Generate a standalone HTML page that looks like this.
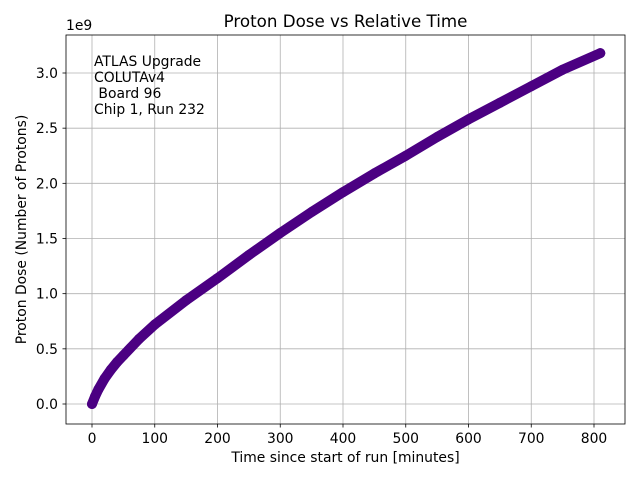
<!DOCTYPE html>
<html><head><meta charset="utf-8"><style>
body{margin:0;background:#fff;}
svg text{font-family:"DejaVu Sans","Liberation Sans",sans-serif;fill:#000;}
</style></head><body>
<svg id="chart" width="640" height="480" viewBox="0 0 640 480">
<rect width="640" height="480" fill="#fff"/>
<g id="grid"></g>
<g id="series"></g>
<rect x="66" y="35" width="559" height="389" fill="none" stroke="#000" stroke-width="0.8"/>
<g id="axes"></g>
<text x="345.5" y="27" font-size="16.7" text-anchor="middle">Proton Dose vs Relative Time</text>
<text x="345.5" y="462" font-size="13.9" text-anchor="middle">Time since start of run [minutes]</text>
<text transform="translate(26,229.5) rotate(-90)" font-size="13.9" text-anchor="middle">Proton Dose (Number of Protons)</text>
<text x="66" y="30" font-size="13.9">1e9</text>
<g font-size="13.9">
<text x="94" y="66">ATLAS Upgrade</text>
<text x="94" y="82">COLUTAv4</text>
<text x="94" y="98" xml:space="preserve"> Board 96</text>
<text x="94" y="114">Chip 1, Run 232</text>
</g>
</svg>
<script>
const times=[0,5,10,20,30,40,50,75,100,150,200,250,300,350,400,450,500,550,600,650,700,750,810];
const doses=[0,0.07,0.13,0.23,0.31,0.38,0.44,0.59,0.72,0.94,1.14,1.35,1.55,1.74,1.92,2.09,2.25,2.42,2.58,2.73,2.88,3.03,3.18];
const xTicks=[0,100,200,300,400,500,600,700,800];
const yTicks=[0,0.5,1.0,1.5,2.0,2.5,3.0];
const NS="http://www.w3.org/2000/svg";
const X=t=>92+t*(502/800);
const Y=d=>404-d*(331/3);
const grid=document.getElementById('grid'),axes=document.getElementById('axes'),series=document.getElementById('series');
function mk(tag,attrs,parent){const e=document.createElementNS(NS,tag);for(const k in attrs)e.setAttribute(k,attrs[k]);parent.appendChild(e);return e;}
xTicks.forEach(t=>{
 const g=mk('line',{x1:X(t),x2:X(t),y1:35,y2:424,stroke:'#b0b0b0','stroke-width':0.8},grid);
 
 
 const tk=mk('line',{x1:X(t),x2:X(t),y1:424,y2:427.5,stroke:'#000','stroke-width':0.8},axes);
 
 
 const lb=mk('text',{x:X(t),y:443,'font-size':13.9,'text-anchor':'middle'},axes);lb.textContent=t;
 
 
});
yTicks.forEach(d=>{
 const g=mk('line',{x1:66,x2:625,y1:Y(d),y2:Y(d),stroke:'#b0b0b0','stroke-width':0.8},grid);
 
 
 const tk=mk('line',{x1:62.5,x2:66,y1:Y(d),y2:Y(d),stroke:'#000','stroke-width':0.8},axes);
 
 
 const lb=mk('text',{x:58,y:Y(d)+5,'font-size':13.9,'text-anchor':'end'},axes);lb.textContent=d.toFixed(1);
 
 
});
const pts=times.map((t,i)=>X(t)+','+Y(doses[i])).join(' ');
const pl=mk('polyline',{points:pts,fill:'none',stroke:'#4b0082','stroke-width':10,'stroke-linecap':'round','stroke-linejoin':'round'},series);


times.forEach((t,i)=>{
 const c=mk('circle',{cx:X(t),cy:Y(doses[i]),r:5,fill:'#4b0082'},series);
 
 
});
</script>
</body></html>
